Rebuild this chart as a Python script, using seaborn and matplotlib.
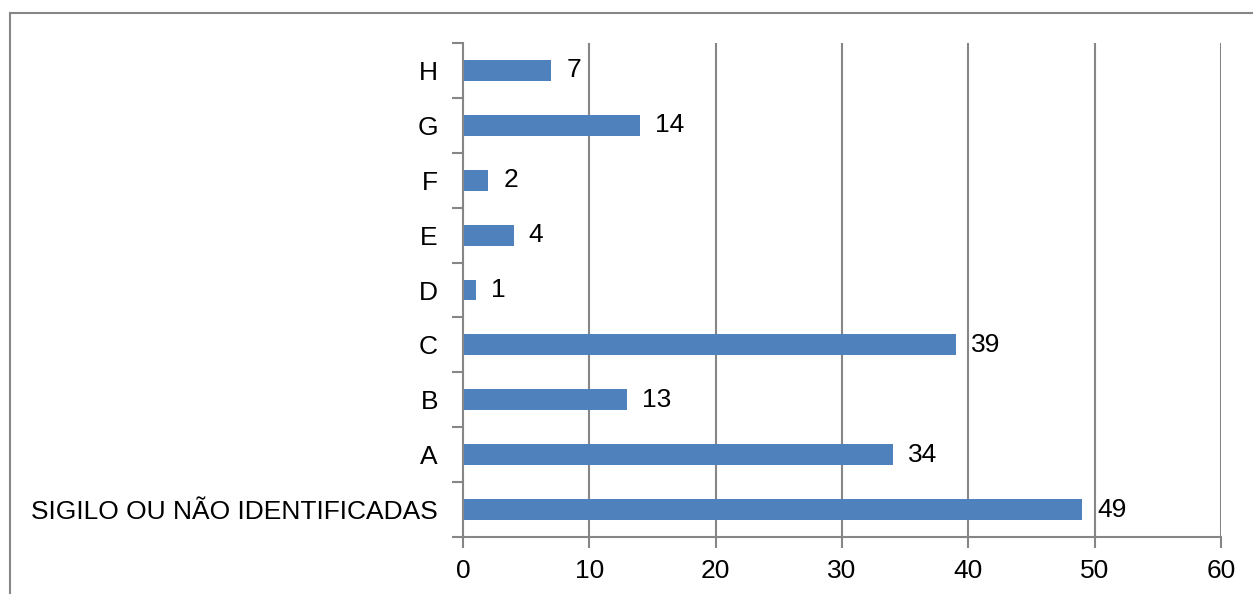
import matplotlib
matplotlib.use("Agg")
import matplotlib.pyplot as plt
import seaborn as sns
import pandas as pd
from matplotlib.patches import Rectangle
from matplotlib.ticker import FixedLocator

categories = ["H", "G", "F", "E", "D", "C", "B", "A", "SIGILO OU NÃO IDENTIFICADAS"]
values = [7, 14, 2, 4, 1, 39, 13, 34, 49]
x_ticks = [0, 10, 20, 30, 40, 50, 60]

sns.set_theme(style="white")
plt.rcParams["font.family"] = ["Liberation Sans", "DejaVu Sans"]

df = pd.DataFrame({"categoria": categories, "valor": values})

fig = plt.figure(figsize=(12.53, 5.94), dpi=100)
ax = fig.add_axes([463 / 1253, 1 - 537 / 594, (1221 - 463) / 1253, (537 - 43) / 594])

sns.barplot(data=df, y="categoria", x="valor", orient="h", order=categories,
            color="#4F81BD", saturation=1, width=0.38, linewidth=0, ax=ax, zorder=3)

grey = "#868686"
fs = 19
ax.set_xlim(0, 60)
ax.set_ylim(len(categories) - 0.5, -0.5)
ax.set_xticks(x_ticks)
ax.set_xticklabels([str(t) for t in x_ticks])
for t in x_ticks[1:]:
    ax.axvline(t, color=grey, lw=1.5, zorder=1)

ax.set_xlabel("")
ax.set_ylabel("")
for s in ["top", "right"]:
    ax.spines[s].set_visible(False)
for s in ["left", "bottom"]:
    ax.spines[s].set_color(grey)
    ax.spines[s].set_linewidth(1.5)
    ax.spines[s].set_zorder(4)

ax.yaxis.set_minor_locator(FixedLocator([i - 0.5 for i in range(len(categories) + 1)]))
ax.tick_params(axis="y", which="major", length=0, pad=18, labelsize=fs, labelcolor="black")
ax.tick_params(axis="y", which="minor", left=True, length=8, width=1.5, color=grey)
ax.tick_params(axis="x", which="major", bottom=True, length=8, width=1.5, color=grey,
               pad=8, labelsize=fs, labelcolor="black")

for i, v in enumerate(values):
    ax.text(v + 1.2, i, str(v), va="center", ha="left", fontsize=fs, color="black")

# outer chart border
fig.patches.append(Rectangle((9.5 / 1253, -0.05), 1.2, 1 - 13 / 594 + 0.05,
                             transform=fig.transFigure, fill=False,
                             edgecolor=grey, lw=1.5))

fig.savefig("out.png", dpi=100)
